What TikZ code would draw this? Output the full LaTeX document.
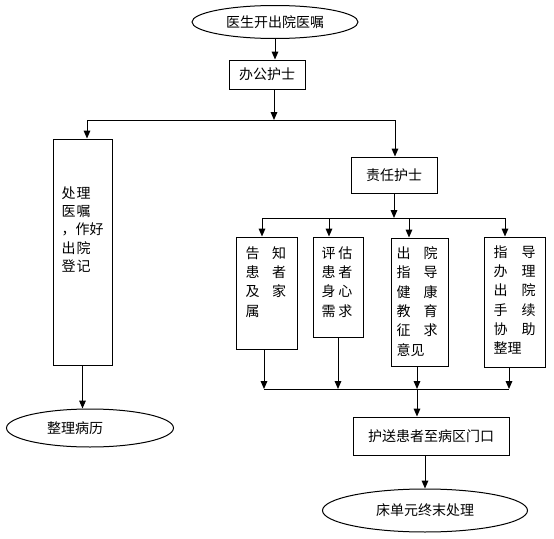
\documentclass[tikz,border=0pt]{standalone}
\usepackage{fontspec}
\newfontfamily\cjk{Noto Sans CJK SC}
\usetikzlibrary{arrows.meta,shapes.geometric}
\def\u{0.75pt}
\newcommand\gA{\hspace{9.4pt}}
\newcommand\gB{\hspace{2.2pt}}
\newcommand\gC{\hspace{9.8pt}}
\newcommand\gD{\hspace{10.5pt}}
\newcommand\gE{\hspace{0.8pt}}
\begin{document}
\begin{tikzpicture}[x=0.75pt,y=-0.75pt,
  font=\cjk\fontsize{10.5}{14.5}\selectfont,
  line width=0.75pt,
  box/.style={draw, rectangle, inner sep=0},
  oval/.style={draw, ellipse, inner sep=0},
  arr/.style={-{Triangle[width=5pt,length=6pt]}},
  txt/.style={inner sep=0, align=left, anchor=north west}]
\useasboundingbox (0,0) rectangle (554,539);

% top
\node[oval, minimum width=166*\u, minimum height=33*\u] (start) at (275,22) {医生开出院医嘱};
\node[box, minimum width=76*\u, minimum height=29*\u] (office) at (267,74.5) {办公护士};
\draw[arr] (start.south) -- (start.south |- office.north);

\coordinate (j1) at (274,120);
\coordinate (L) at (87,120);
\coordinate (R) at (395,120);
\draw[arr] (j1 |- office.south) -- (j1);
\draw (L) -- (R);

% left branch
\node[box, minimum width=59*\u, minimum height=226*\u] (handle) at (82.5,252) {};
\node[txt, font=\cjk\fontsize{10.5}{13.7}\selectfont] (handletext) at (61,186) {处\gE 理\\医\gE 嘱\\，作好\\出\gE 院\\登\gE 记};
\draw[arr] (L) -- (L |- handle.north);

\node[oval, minimum width=167*\u, minimum height=38*\u] (rec) at (90,428) {};
\node[inner sep=0] (rectext) at (75,428) {整理病历};
\draw[arr] (handle.south) -- (handle.south |- rec.north);

% right branch
\node[box, minimum width=86*\u, minimum height=36*\u] (resp) at (394,175) {责任护士};
\draw[arr] (R) -- (R |- resp.north);

\coordinate (b1) at (262,218);
\coordinate (b2) at (329,218);
\coordinate (b3) at (409,218);
\coordinate (b4) at (505,218);
\draw (b1) -- (b4);
\draw[arr] (resp.south) -- (resp.south |- b1);

\node[box, minimum width=61*\u, minimum height=112*\u] (box1) at (266.5,293) {};
\node[box, minimum width=50*\u, minimum height=100*\u] (box2) at (338,287) {};
\node[box, minimum width=57*\u, minimum height=128*\u] (box3) at (419.5,302) {};
\node[box, minimum width=61*\u, minimum height=130*\u] (box4) at (514.5,302) {};

\node[txt] (t1) at (245,246) {告\gA 知\\患\gA 者\\及\gA 家\\属};
\node[txt] (t2) at (321,246) {评\gB 估\\患\gB 者\\身\gB 心\\需\gB 求};
\node[txt] (t3) at (396,246) {出\gC 院\\指\gC 导\\健\gC 康\\教\gC 育\\征\gC 求\\意见};
\node[txt] (t4) at (493,245) {指\gD 导\\办\gD 理\\出\gD 院\\手\gD 续\\协\gD 助\\整理};

\draw[arr] (b1) -- (b1 |- box1.north);
\draw[arr] (b2) -- (b2 |- box2.north);
\draw[arr] (b3) -- (b3 |- box3.north);
\draw[arr] (b4) -- (b4 |- box4.north);

\coordinate (c1) at (264,389);
\coordinate (c2) at (338,389);
\coordinate (c3) at (417,389);
\coordinate (c4) at (509,389);
\draw[arr] (c1 |- box1.south) -- (c1);
\draw[arr] (c2 |- box2.south) -- (c2);
\draw[arr] (c3 |- box3.south) -- (c3);
\draw[arr] (c4 |- box4.south) -- (c4);
\draw (c1) -- (c4);

\node[box, minimum width=156*\u, minimum height=38*\u] (escort) at (431,436) {护送患者至病区门口};
\draw[arr] (c3) -- (c3 |- escort.north);

\node[oval, minimum width=205*\u, minimum height=43*\u] (final) at (425,510.5) {床单元终末处理};
\draw[arr] (final.north |- escort.south) -- (final.north);
\end{tikzpicture}
\end{document}
